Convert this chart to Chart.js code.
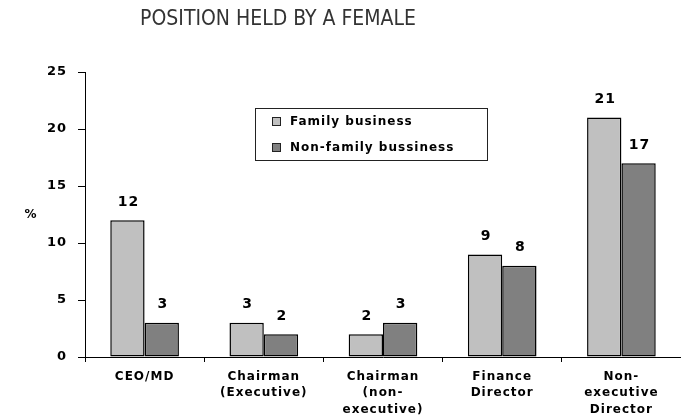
<!DOCTYPE html>
<html>
<head>
<meta charset="utf-8">
<script src="https://cdn.jsdelivr.net/npm/chart.js@4/dist/chart.umd.min.js"></script>
<style>
  html, body { margin: 0; padding: 0; background: #fff; }
  #wrap { width: 681px; height: 420px; }
</style>
</head>
<body>
<div id="wrap"><canvas id="graph"></canvas></div>
<script>
const categories = [
    ['CEO/MD'],
    ['Chairman', '(Executive)'],
    ['Chairman', '(non-', 'executive)'],
    ['Finance', 'Director'],
    ['Non-', 'executive', 'Director']
];
const familyBusiness = [12, 3, 2, 9, 21];
const nonFamilyBusiness = [3, 2, 3, 8, 17];
const seriesNames = ['Family business', 'Non-family bussiness'];
const chartTitle = 'POSITION HELD BY A FEMALE';
const yTicks = [0, 5, 10, 15, 20, 25];

const boldFont = '"DejaVu Sans", sans-serif';

// titre, légende, "%" et valeurs au-dessus des barres
const decorations = {
    id: 'decorations',
    beforeDraw(chart) {
        chart.ctx.letterSpacing = '1px';
    },
    afterDraw(chart) {
        const ctx = chart.ctx;
        ctx.save();

        // titre
        ctx.letterSpacing = '0px';
        ctx.fillStyle = '#333';
        ctx.font = '21px "Liberation Sans Narrow", "DejaVu Sans Condensed", sans-serif';
        ctx.textAlign = 'center';
        ctx.textBaseline = 'middle';
        ctx.fillText(chartTitle, 278, 20);

        // unité de l'axe
        ctx.letterSpacing = '1px';
        ctx.fillStyle = '#000';
        ctx.font = 'bold 12px ' + boldFont;
        ctx.fillText('%', 31, 215);

        // valeurs
        ctx.font = 'bold 14px ' + boldFont;
        chart.data.datasets.forEach((ds, i) => {
            chart.getDatasetMeta(i).data.forEach((bar, j) => {
                ctx.fillText(ds.data[j], bar.x + 1, bar.y - 18);
            });
        });

        // légende
        ctx.lineWidth = 1;
        ctx.strokeStyle = '#222';
        ctx.strokeRect(255.5, 108.5, 232, 52);
        ctx.font = 'bold 12px ' + boldFont;
        ctx.textAlign = 'left';
        chart.data.datasets.forEach((ds, i) => {
            const y = 122 + i * 26;
            ctx.fillStyle = ds.backgroundColor;
            ctx.fillRect(272.5, y - 4.5, 8, 8);
            ctx.strokeRect(272.5, y - 4.5, 8, 8);
            ctx.fillStyle = '#000';
            ctx.fillText(ds.label, 290, y);
        });
        ctx.restore();
    }
};

const ctx = document.getElementById('graph').getContext('2d');
new Chart(ctx, {
    type: 'bar',
    data: {
        labels: categories,
        datasets: [{
            label: seriesNames[0],
            data: familyBusiness,
            backgroundColor: '#c0c0c0',
            borderColor: '#000',
            borderWidth: 1.5,
            borderSkipped: false
        }, {
            label: seriesNames[1],
            data: nonFamilyBusiness,
            backgroundColor: '#808080',
            borderColor: '#000',
            borderWidth: 1.5,
            borderSkipped: false
        }]
    },
    options: {
        responsive: true,
        maintainAspectRatio: false,
        animation: false,
        layout: { padding: { top: 72, left: 0, right: 0, bottom: 0 } },
        datasets: { bar: { categoryPercentage: 0.576, barPercentage: 1 } },
        plugins: {
            legend: { display: false },
            title: { display: false },
            tooltip: { enabled: false }
        },
        scales: {
            x: {
                afterFit(scale) { scale.height = 63; },
                grid: { offset: true, drawOnChartArea: false, tickLength: 5, color: '#000' },
                border: { color: '#000', width: 1 },
                ticks: {
                    color: '#000',
                    padding: 6,
                    maxRotation: 0,
                    autoSkip: false,
                    font: { family: boldFont, size: 12, weight: 'bold', lineHeight: 1.4 }
                }
            },
            y: {
                min: 0,
                max: 25,
                afterFit(scale) { scale.width = 85; },
                afterBuildTicks(scale) { scale.ticks = yTicks.map(v => ({ value: v })); },
                grid: { drawOnChartArea: false, tickLength: 7, color: '#000' },
                border: { color: '#000', width: 1 },
                ticks: {
                    color: '#000',
                    padding: 11,
                    font: { family: boldFont, size: 13, weight: 'bold' }
                }
            }
        }
    },
    plugins: [decorations]
});
</script>
</body>
</html>
